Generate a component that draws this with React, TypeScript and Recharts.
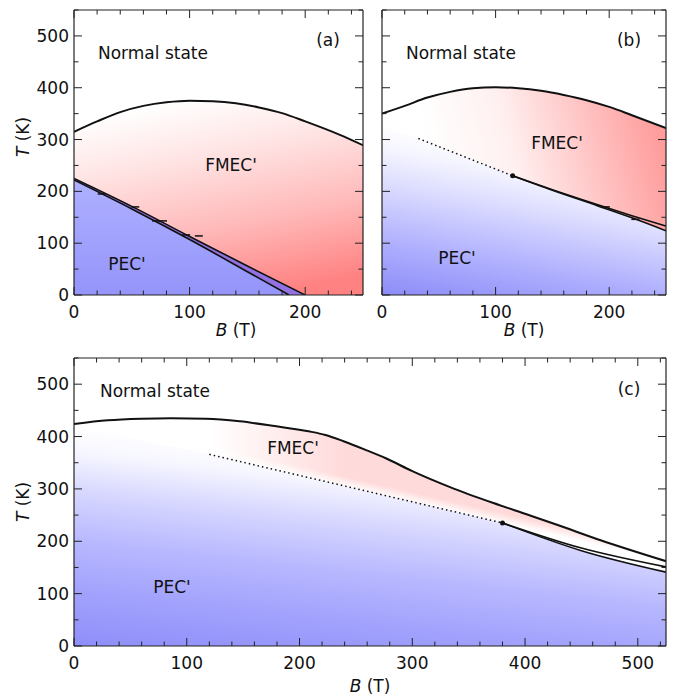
import React from 'react';
import { ComposedChart, Area, Line, XAxis, YAxis } from 'recharts';

const FONT = '"DejaVu Sans", Verdana, sans-serif';
const AXIS = '#222';

// tick positions
const xTicksTop = [0, 20, 40, 60, 80, 100, 120, 140, 160, 180, 200, 220, 240];
const xTicksWide = [0, 20, 40, 60, 80, 100, 120, 140, 160, 180, 200, 220, 240, 260, 280, 300, 320, 340, 360, 380, 400, 420, 440, 460, 480, 500, 520];
const yTicks = [0, 50, 100, 150, 200, 250, 300, 350, 400, 450, 500, 550];

// panel (a)
const aNormalBoundary = [
  { B: 0, T: 315 }, { B: 20, T: 335 }, { B: 40, T: 353 }, { B: 60, T: 365 }, { B: 80, T: 372 },
  { B: 100, T: 375 }, { B: 120, T: 374 }, { B: 140, T: 370 }, { B: 160, T: 362 }, { B: 180, T: 351 },
  { B: 200, T: 335 }, { B: 230, T: 309 }, { B: 250, T: 289 },
];
const aFmecLine = [{ B: 0, T: 225 }, { B: 50, T: 171 }, { B: 100, T: 113 }, { B: 150, T: 56 }, { B: 200, T: 0 }];
const aPecLine = [{ B: 0, T: 222 }, { B: 50, T: 166 }, { B: 100, T: 107 }, { B: 150, T: 45 }, { B: 186, T: 0 }];
const aMarks = [
  { B: 24, T: 195 }, { B: 53, T: 170 }, { B: 71, T: 143 }, { B: 77, T: 143 }, { B: 97, T: 116 }, { B: 108, T: 114 },
];

// panel (b)
const bNormalBoundary = [
  { B: 0, T: 350 }, { B: 20, T: 365 }, { B: 40, T: 381 }, { B: 60, T: 392 }, { B: 80, T: 399 },
  { B: 100, T: 401 }, { B: 120, T: 399 }, { B: 140, T: 394 }, { B: 160, T: 386 }, { B: 180, T: 376 },
  { B: 200, T: 363 }, { B: 220, T: 347 }, { B: 250, T: 322 },
];
const bCrossover = [{ B: 32, T: 302 }, { B: 115, T: 230 }];
const bFmecLine = [{ B: 115, T: 230 }, { B: 150, T: 203 }, { B: 190, T: 174 }, { B: 220, T: 153 }, { B: 250, T: 133 }];
const bPecLine = [{ B: 115, T: 230 }, { B: 150, T: 202 }, { B: 190, T: 172 }, { B: 220, T: 149 }, { B: 250, T: 124 }];
const bMarks = [{ B: 197, T: 170 }, { B: 223, T: 146 }];
const bBlueEdge = [{ B: 0, T: 330 }, ...bCrossover, ...bPecLine.slice(1)];

// panel (c)
const cNormalBoundary = [
  { B: 0, T: 424 }, { B: 30, T: 431 }, { B: 60, T: 434 }, { B: 86, T: 435 }, { B: 117, T: 434 },
  { B: 147, T: 429 }, { B: 178, T: 420 }, { B: 208, T: 410 }, { B: 223, T: 403 }, { B: 239, T: 391 },
  { B: 258, T: 375 }, { B: 277, T: 358 }, { B: 300, T: 334 }, { B: 334, T: 303 }, { B: 372, T: 273 },
  { B: 402, T: 251 }, { B: 429, T: 231 }, { B: 467, T: 202 }, { B: 525, T: 162 },
];
const cCrossover = [{ B: 120, T: 366 }, { B: 380, T: 235 }];
const cFmecLine = [{ B: 380, T: 235 }, { B: 450, T: 187 }, { B: 525, T: 151 }];
const cPecLine = [{ B: 380, T: 235 }, { B: 450, T: 182 }, { B: 525, T: 141 }];
const cBlueEdge = [{ B: 0, T: 420 }, ...cCrossover, ...cPecLine.slice(1)];

const tickText = { fontFamily: FONT, fontSize: 17, fill: '#111' };

const BottomTick = (p: any) => {
  const major = p.payload.value % 100 === 0;
  return (
    <g>
      <line x1={p.x} x2={p.x} y1={p.y} y2={p.y - (major ? 8 : 4.5)} stroke={AXIS} />
      {major && (
        <text x={p.x} y={p.y + 23} textAnchor="middle" {...tickText}>{p.payload.value}</text>
      )}
    </g>
  );
};
const TopTick = (p: any) => {
  const major = p.payload.value % 100 === 0;
  return <line x1={p.x} x2={p.x} y1={p.y} y2={p.y + (major ? 8 : 4.5)} stroke={AXIS} />;
};
const LeftTick = (p: any) => {
  const major = p.payload.value % 100 === 0;
  return (
    <g>
      <line x1={p.x} x2={p.x + (major ? 8 : 4.5)} y1={p.y} y2={p.y} stroke={AXIS} />
      {major && p.showLabel && (
        <text x={p.x - 5} y={p.y + 6} textAnchor="end" {...tickText}>{p.payload.value}</text>
      )}
    </g>
  );
};
const RightTick = (p: any) => {
  const major = p.payload.value % 100 === 0;
  return <line x1={p.x} x2={p.x - (major ? 8 : 4.5)} y1={p.y} y2={p.y} stroke={AXIS} />;
};

const dashMark = (p: any) => (
  <line key={p.index} x1={p.cx - 4} x2={p.cx + 4} y1={p.cy} y2={p.cy} stroke="#111" strokeWidth={1.5} />
);

// axes get a 1px box so that they are drawn; margins are 1px smaller for it
const axes = (xMax: number, xTicks: number[], yLabels = true) => [
  <XAxis key="xb" dataKey="B" type="number" domain={[0, xMax]} ticks={xTicks} interval={0} allowDataOverflow
    height={1} tickSize={0} tickMargin={0} tickLine={false} tick={(p: any) => <BottomTick {...p} />}
    axisLine={{ stroke: AXIS, strokeWidth: 1.2 }} />,
  <XAxis key="xt" xAxisId="top" orientation="top" dataKey="B" type="number" domain={[0, xMax]} ticks={xTicks}
    interval={0} allowDataOverflow height={1} tickSize={0} tickMargin={0} tickLine={false}
    tick={(p: any) => <TopTick {...p} />} axisLine={{ stroke: AXIS, strokeWidth: 1.2 }} />,
  <YAxis key="yl" type="number" domain={[0, 550]} ticks={yTicks} interval={0} allowDataOverflow width={1}
    tickSize={0} tickMargin={0} tickLine={false} tick={(p: any) => <LeftTick {...p} showLabel={yLabels} />}
    axisLine={{ stroke: AXIS, strokeWidth: 1.2 }} />,
  <YAxis key="yr" yAxisId="right" orientation="right" type="number" domain={[0, 550]} ticks={yTicks}
    interval={0} allowDataOverflow width={1} tickSize={0} tickMargin={0} tickLine={false}
    tick={(p: any) => <RightTick {...p} />} axisLine={{ stroke: AXIS, strokeWidth: 1.2 }} />,
];

const Txt = ({ x, y, children, start = false, rotate = false }: any) => (
  <div
    style={{
      position: 'absolute', left: x, top: y,
      transform: `translate(${start ? '0' : '-50%'}, -50%)${rotate ? ' rotate(-90deg)' : ''}`,
      fontFamily: FONT, fontSize: 17, lineHeight: '17px', whiteSpace: 'nowrap', color: '#111',
    }}
  >
    {children}
  </div>
);

const PanelA = () => (
  <ComposedChart width={373} height={330} margin={{ top: 9, right: 9, bottom: 34, left: 73 }}>
    <defs>
      <linearGradient id="aRed" x1="0.35" y1="0" x2="0.65" y2="1">
        <stop offset="0" stopColor="#ffffff" />
        <stop offset="0.3" stopColor="#ffe2e2" />
        <stop offset="0.65" stopColor="#ffb8b8" />
        <stop offset="1" stopColor="#ff8282" />
      </linearGradient>
      <linearGradient id="aBlue" x1="0" y1="0" x2="0" y2="1">
        <stop offset="0" stopColor="#aeb0ff" />
        <stop offset="1" stopColor="#9494fa" />
      </linearGradient>
    </defs>
    <Area data={aNormalBoundary} dataKey="T" type="monotone" fill="url(#aRed)" fillOpacity={1} stroke="none" isAnimationActive={false} />
    <Area data={aFmecLine} dataKey="T" type="monotone" fill="#9272e0" fillOpacity={1} stroke="none" isAnimationActive={false} />
    <Area data={aPecLine} dataKey="T" type="monotone" fill="url(#aBlue)" fillOpacity={1} stroke="none" isAnimationActive={false} />
    <Line data={aNormalBoundary} dataKey="T" type="monotone" stroke="#111" strokeWidth={2} dot={false} activeDot={false} isAnimationActive={false} />
    <Line data={aFmecLine} dataKey="T" type="monotone" stroke="#111" strokeWidth={1.6} dot={false} activeDot={false} isAnimationActive={false} />
    <Line data={aPecLine} dataKey="T" type="monotone" stroke="#111" strokeWidth={1.6} dot={false} activeDot={false} isAnimationActive={false} />
    <Line data={aMarks} dataKey="T" stroke="none" dot={dashMark} activeDot={false} isAnimationActive={false} />
    {axes(250, xTicksTop)}
  </ComposedChart>
);

const PanelB = () => (
  <ComposedChart width={300} height={330} margin={{ top: 9, right: 6, bottom: 34, left: 8 }}>
    <defs>
      <linearGradient id="bRed" x1="0.2" y1="0.5" x2="1" y2="0.35">
        <stop offset="0" stopColor="#ffffff" />
        <stop offset="0.35" stopColor="#fff0f0" />
        <stop offset="1" stopColor="#ff9c9c" />
      </linearGradient>
      <linearGradient id="bBlue" x1="0" y1="0" x2="-0.275" y2="0.918">
        <stop offset="0" stopColor="#ffffff" />
        <stop offset="0.15" stopColor="#f4f4ff" />
        <stop offset="0.35" stopColor="#dcdcff" />
        <stop offset="0.5" stopColor="#c8c8ff" />
        <stop offset="0.7" stopColor="#aeaefe" />
        <stop offset="1" stopColor="#8c8cf8" />
      </linearGradient>
    </defs>
    <Area data={bNormalBoundary} dataKey="T" type="monotone" fill="url(#bRed)" fillOpacity={1} stroke="none" isAnimationActive={false} />
    <Area data={bBlueEdge} dataKey="T" type="linear" fill="url(#bBlue)" fillOpacity={1} stroke="none" isAnimationActive={false} />
    <Line data={bNormalBoundary} dataKey="T" type="monotone" stroke="#111" strokeWidth={2} dot={false} activeDot={false} isAnimationActive={false} />
    <Line data={bCrossover} dataKey="T" stroke="#111" strokeWidth={1.5} strokeDasharray="1.5 3" dot={false} activeDot={false} isAnimationActive={false} />
    <Line data={bFmecLine} dataKey="T" type="monotone" stroke="#111" strokeWidth={1.6} dot={false} activeDot={false} isAnimationActive={false} />
    <Line data={bPecLine} dataKey="T" type="monotone" stroke="#111" strokeWidth={1.6} dot={false} activeDot={false} isAnimationActive={false} />
    <Line data={bCrossover.slice(1)} dataKey="T" stroke="none" dot={{ r: 2.5, fill: '#111', stroke: 'none' }} activeDot={false} isAnimationActive={false} />
    <Line data={bMarks} dataKey="T" stroke="none" dot={dashMark} activeDot={false} isAnimationActive={false} />
    {axes(250, xTicksTop, false)}
  </ComposedChart>
);

const PanelC = () => (
  <ComposedChart width={673} height={356} margin={{ top: 17, right: 6, bottom: 49, left: 73 }}>
    <defs>
      <linearGradient id="cRed" x1="0.7248" y1="0.4622" x2="0.745" y2="0.4286">
        <stop offset="0" stopColor="#ffffff" />
        <stop offset="1" stopColor="#ffdada" />
      </linearGradient>
      <linearGradient id="cFade" x1="0.23" y1="0" x2="0.46" y2="0">
        <stop offset="0" stopColor="#ffffff" stopOpacity={1} />
        <stop offset="1" stopColor="#ffffff" stopOpacity={0} />
      </linearGradient>
      <linearGradient id="cBlue" x1="0" y1="0" x2="-0.275" y2="0.918">
        <stop offset="0" stopColor="#ffffff" />
        <stop offset="0.12" stopColor="#f6f6ff" />
        <stop offset="0.29" stopColor="#d8d8ff" />
        <stop offset="0.52" stopColor="#b8b8ff" />
        <stop offset="0.75" stopColor="#a2a2fd" />
        <stop offset="1" stopColor="#8e8efa" />
      </linearGradient>
    </defs>
    <Area data={cNormalBoundary} dataKey="T" type="monotone" fill="url(#cRed)" fillOpacity={1} stroke="none" isAnimationActive={false} />
    <Area data={cNormalBoundary} dataKey="T" type="monotone" fill="url(#cFade)" fillOpacity={1} stroke="none" isAnimationActive={false} />
    <Area data={cBlueEdge} dataKey="T" type="linear" fill="url(#cBlue)" fillOpacity={1} stroke="none" isAnimationActive={false} />
    <Line data={cNormalBoundary} dataKey="T" type="monotone" stroke="#111" strokeWidth={2} dot={false} activeDot={false} isAnimationActive={false} />
    <Line data={cCrossover} dataKey="T" stroke="#111" strokeWidth={1.5} strokeDasharray="1.5 3" dot={false} activeDot={false} isAnimationActive={false} />
    <Line data={cFmecLine} dataKey="T" type="monotone" stroke="#111" strokeWidth={1.6} dot={false} activeDot={false} isAnimationActive={false} />
    <Line data={cPecLine} dataKey="T" type="monotone" stroke="#111" strokeWidth={1.6} dot={false} activeDot={false} isAnimationActive={false} />
    <Line data={cCrossover.slice(1)} dataKey="T" stroke="none" dot={{ r: 2.5, fill: '#111', stroke: 'none' }} activeDot={false} isAnimationActive={false} />
    {axes(525, xTicksWide)}
  </ComposedChart>
);

export default function App() {
  return (
    <div style={{ position: 'absolute', left: 0, top: 0, width: 673, height: 696, background: '#fff', overflow: 'hidden' }}>
      <div style={{ position: 'absolute', left: 0, top: 0 }}><PanelA /></div>
      <div style={{ position: 'absolute', left: 373, top: 0 }}><PanelB /></div>
      <div style={{ position: 'absolute', left: 0, top: 340 }}><PanelC /></div>

      <Txt x={98} y={53} start>Normal state</Txt>
      <Txt x={328} y={40}>(a)</Txt>
      <Txt x={231} y={165}>FMEC'</Txt>
      <Txt x={127} y={264}>PEC'</Txt>

      <Txt x={406} y={53} start>Normal state</Txt>
      <Txt x={629} y={40}>(b)</Txt>
      <Txt x={557} y={143}>FMEC'</Txt>
      <Txt x={457} y={258}>PEC'</Txt>

      <Txt x={100} y={391} start>Normal state</Txt>
      <Txt x={629} y={389}>(c)</Txt>
      <Txt x={293} y={448}>FMEC'</Txt>
      <Txt x={172} y={587}>PEC'</Txt>

      <Txt x={23} y={137} rotate><i>T</i> (K)</Txt>
      <Txt x={23} y={502} rotate><i>T</i> (K)</Txt>
      <Txt x={236} y={330}><i>B</i> (T)</Txt>
      <Txt x={524} y={330}><i>B</i> (T)</Txt>
      <Txt x={370} y={686}><i>B</i> (T)</Txt>
    </div>
  );
}
